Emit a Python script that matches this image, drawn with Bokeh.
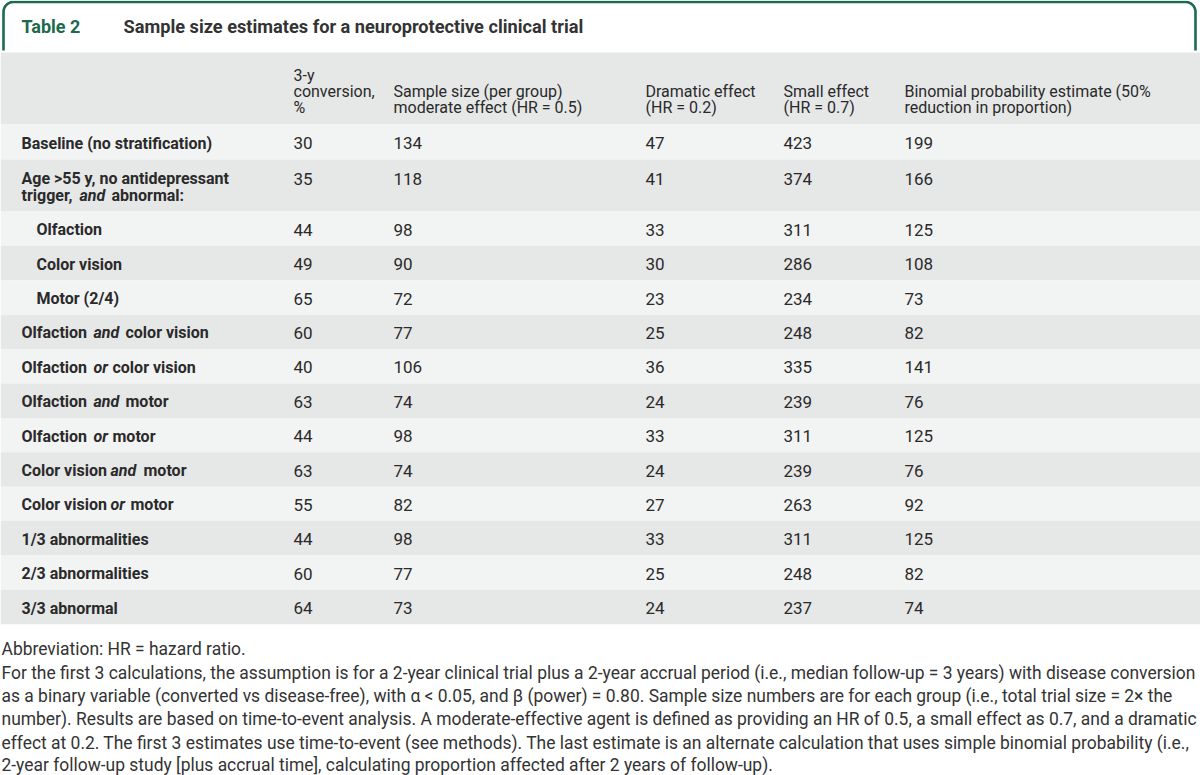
import numpy as np
from bokeh.plotting import figure
from bokeh.models import Range1d, ColumnDataSource
from bokeh.core.properties import value
from bokeh.embed import file_html
from bokeh.resources import INLINE

# ---------------- data ----------------
table_number = "Table 2"
table_title = "Sample size estimates for a neuroprotective clinical trial"

header_cells = [
    ["3-y", "conversion,", "%"],
    ["Sample size (per group)", "moderate effect (HR = 0.5)"],
    ["Dramatic effect", "(HR = 0.2)"],
    ["Small effect", "(HR = 0.7)"],
    ["Binomial probability estimate (50%", "reduction in proportion)"],
]

row_labels = [
    "Baseline (no stratification)",
    "Age >55 y, no antidepressant\ntrigger, *and* abnormal:",
    "Olfaction",
    "Color vision",
    "Motor (2/4)",
    "Olfaction *and* color vision",
    "Olfaction *or* color vision",
    "Olfaction *and* motor",
    "Olfaction *or* motor",
    "Color vision *and* motor",
    "Color vision *or* motor",
    "1/3 abnormalities",
    "2/3 abnormalities",
    "3/3 abnormal",
]
row_is_sub = [False, False, True, True, True, False, False, False, False, False, False, False, False, False]

conversion_pct = [30, 35, 44, 49, 65, 60, 40, 63, 44, 63, 55, 44, 60, 64]
moderate_hr05 = [134, 118, 98, 90, 72, 77, 106, 74, 98, 74, 82, 98, 77, 73]
dramatic_hr02 = [47, 41, 33, 30, 23, 25, 36, 24, 33, 24, 27, 33, 25, 24]
small_hr07 = [423, 374, 311, 286, 234, 248, 335, 239, 311, 239, 263, 311, 248, 237]
binomial_est = [199, 166, 125, 108, 73, 82, 141, 76, 125, 76, 92, 125, 82, 74]

footnotes = [
    "Abbreviation: HR = hazard ratio.",
    "For the first 3 calculations, the assumption is for a 2-year clinical trial plus a 2-year accrual period (i.e., median follow-up = 3 years) with disease conversion",
    "as a binary variable (converted vs disease-free), with \u03b1 < 0.05, and \u03b2 (power) = 0.80. Sample size numbers are for each group (i.e., total trial size = 2\u00d7 the",
    "number). Results are based on time-to-event analysis. A moderate-effective agent is defined as providing an HR of 0.5, a small effect as 0.7, and a dramatic",
    "effect at 0.2. The first 3 estimates use time-to-event (see methods). The last estimate is an alternate calculation that uses simple binomial probability (i.e.,",
    "2-year follow-up study [plus accrual time], calculating proportion affected after 2 years of follow-up).",
]

# ---------------- layout ----------------
W, H = 1200, 775
FONT = "Roboto"
TXT = "#2a2a2a"
GREEN = "#1d6a4d"
DARK = "#e6e7e7"
LIGHT = "#f2f3f3"

col_x = [293, 393, 645, 783, 904]
label_x, sub_x = 21, 36
# x positions of mixed-style segments (per row, per line)
seg_x = {
    1: [[21], [21, 79, 111]],
    5: [[21, 93, 125]],
    6: [[21, 93, 112]],
    7: [[21, 93, 125]],
    8: [[21, 93, 112]],
    9: [[21, 110, 143]],
    10: [[21, 110, 130]],
}

p = figure(width=W, height=H, output_backend="svg", toolbar_location=None,
           x_range=Range1d(0, W), y_range=Range1d(H, 0), min_border=0)
p.axis.visible = False
p.grid.visible = False
p.outline_line_color = None
p.background_fill_color = "white"
p.border_fill_color = "white"

# title box border (rounded top corners)
r = 10
t = np.linspace(np.pi, 1.5 * np.pi, 20)
left_arc_x = 3 + r + r * np.cos(t)
left_arc_y = 1.5 + r + r * np.sin(t)
t2 = np.linspace(1.5 * np.pi, 2 * np.pi, 20)
right_arc_x = 1195 - r + r * np.cos(t2)
right_arc_y = 1.5 + r + r * np.sin(t2)
bx = np.concatenate([[3], left_arc_x, right_arc_x, [1195]])
by = np.concatenate([[50], left_arc_y, right_arc_y, [50]])
p.line(bx, by, line_color=GREEN, line_width=2.6)

p.text(x=[21], y=[26], text=[table_number], text_font=value(FONT), text_font_style="bold",
       text_font_size="18px", text_color=GREEN, text_baseline="middle")
p.text(x=[123], y=[26], text=[table_title], text_font=value(FONT), text_font_style="bold",
       text_font_size="18.2px", text_color="#333333", text_baseline="middle")

# header band
p.quad(left=[0], right=[W], top=[52], bottom=[124], color=DARK, line_color=None)
hx, hy, ht = [], [], []
for cx, cell in zip(col_x, header_cells):
    n = len(cell)
    for i, line in enumerate(cell):
        hx.append(cx)
        hy.append(107 - 16 * (n - 1 - i))
        ht.append(line)
p.text(x=hx, y=hy, text=ht, text_font=value(FONT), text_font_size="16px",
       text_color=TXT, text_baseline="middle")

# body rows
heights = [35 if i == 0 else (52 if "\n" in lab else 34.4) for i, lab in enumerate(row_labels)]
tops = 124 + np.concatenate([[0], np.cumsum(heights)[:-1]])
bottoms = tops + np.array(heights)
colors = [LIGHT if i % 2 == 0 else DARK for i in range(len(row_labels))]
p.quad(left=0, right=W, top=tops, bottom=bottoms, color=colors, line_color=None)

first_line_y = [tp + 19 if "\n" in lab else (tp + h / 2 + 1) for tp, h, lab in zip(tops, heights, row_labels)]

# row labels (bold, italic connectors)
for i, lab in enumerate(row_labels):
    lines = lab.split("\n")
    for li, line in enumerate(lines):
        y = first_line_y[i] + 17 * li
        parts = line.split("*")
        xs = seg_x.get(i, [[sub_x if row_is_sub[i] else label_x]] * len(lines))[li]
        for k, part in enumerate(parts):
            if not part.strip():
                continue
            style = "bold italic" if k % 2 == 1 else "bold"
            p.text(x=[xs[k]], y=[y], text=[part.strip()], text_font=value(FONT),
                   text_font_style=style, text_font_size="16px", text_color=TXT,
                   text_baseline="middle")

for cx, vals in zip(col_x, [conversion_pct, moderate_hr05, dramatic_hr02, small_hr07, binomial_est]):
    src = ColumnDataSource(dict(x=[cx] * len(vals), y=first_line_y, t=[str(v) for v in vals]))
    p.text(x="x", y="y", text="t", source=src, text_font=value(FONT), text_font_size="17px",
           text_color=TXT, text_baseline="middle")

# footnotes
foot_y = [648, 672, 695, 718, 742, 764]
p.text(x=[1] * len(footnotes), y=foot_y, text=footnotes, text_font=value(FONT),
       text_font_size="17.45px", text_color="#333333", text_baseline="middle")

open("out.html", "w").write(file_html(p, INLINE))
